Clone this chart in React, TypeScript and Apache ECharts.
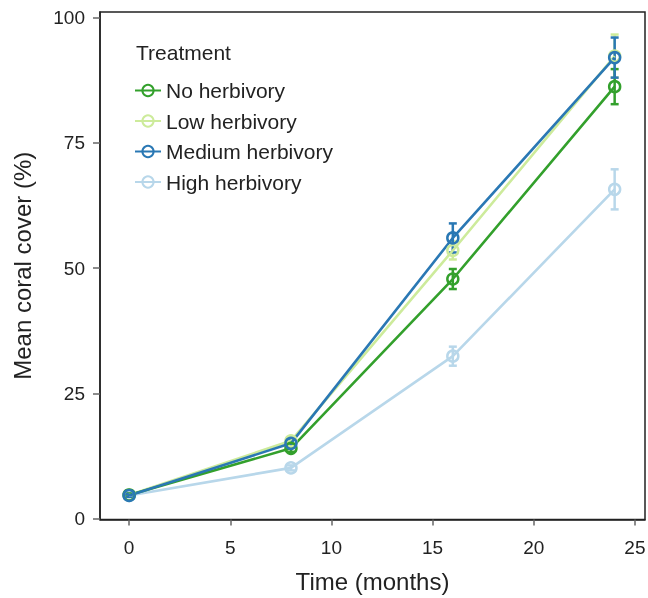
import React, { useEffect, useRef } from "react";
import * as echarts from "echarts";

const months = [0, 8, 16, 24];
const treatments = ["No herbivory", "Low herbivory", "Medium herbivory", "High herbivory"];
const colors = ["#33a02c", "#cdeb9b", "#2a78b4", "#b8d7ea"];
const meanNo = [4.7, 14.0, 47.8, 86.2];
const meanLow = [4.7, 15.5, 53.5, 92.3];
const meanMedium = [4.6, 15.0, 56.0, 92.0];
const meanHigh = [4.6, 10.1, 32.4, 65.7];
const errNo = [0.3, 0.7, 2.0, 3.5];
const errLow = [0.3, 0.7, 1.8, 4.3];
const errMedium = [0.3, 0.8, 2.9, 4.0];
const errHigh = [0.3, 0.5, 1.9, 4.0];
const xTicks = [0, 5, 10, 15, 20, 25];
const yTicks = [0, 25, 50, 75, 100];

const means = [meanNo, meanLow, meanMedium, meanHigh];
const errs = [errNo, errLow, errMedium, errHigh];
const FONT = "Liberation Sans, Arial, sans-serif";

export default function App() {
  const ref = useRef<HTMLDivElement>(null);
  useEffect(() => {
    if (!ref.current) return;
    const chart = echarts.init(ref.current, undefined, { renderer: "svg" });
    const order = [1, 3, 0, 2];
    const series: any[] = [];
    order.forEach((i) => {
      const col = colors[i];
      series.push({
        type: "custom",
        name: treatments[i] + " err",
        data: months.map((m, k) => [m, means[i][k] - errs[i][k], means[i][k] + errs[i][k]]),
        encode: { x: 0, y: [1, 2] },
        silent: true,
        z: 2,
        renderItem: (params: any, api: any) => {
          const lo = api.coord([api.value(0), api.value(1)]);
          const hi = api.coord([api.value(0), api.value(2)]);
          const w = 4;
          const style = { stroke: col, lineWidth: 2.5 };
          return {
            type: "group",
            children: [
              { type: "line", shape: { x1: lo[0], y1: lo[1], x2: hi[0], y2: hi[1] }, style },
              { type: "line", shape: { x1: lo[0] - w, y1: lo[1], x2: lo[0] + w, y2: lo[1] }, style },
              { type: "line", shape: { x1: hi[0] - w, y1: hi[1], x2: hi[0] + w, y2: hi[1] }, style },
            ],
          };
        },
      });
      series.push({
        type: "line",
        name: treatments[i],
        data: months.map((m, k) => [m, means[i][k]]),
        symbol: "circle",
        symbolSize: 11,
        z: 3,
        color: col,
        itemStyle: { color: "rgba(255,255,255,0)", borderColor: col, borderWidth: 2.5 },
        lineStyle: { color: col, width: 2.6 },
      });
    });
    chart.setOption({
      animation: false,
      grid: {
        left: 100,
        right: 3,
        top: 12,
        bottom: 78.5,
        containLabel: false,
        outerBoundsMode: "none",
        show: true,
        borderColor: "#222",
        borderWidth: 1.5,
        backgroundColor: "transparent",
      },
      title: {
        text: "Treatment",
        left: 131,
        top: 37,
        textStyle: { fontFamily: FONT, fontSize: 21, fontWeight: "normal", color: "#222" },
      },
      legend: {
        data: treatments,
        orient: "vertical",
        left: 129,
        top: 75,
        itemWidth: 26,
        itemHeight: 14,
        itemGap: 9.5,
        textStyle: { fontFamily: FONT, fontSize: 21, color: "#222", padding: [0, 0, 0, 0] },
      },
      xAxis: {
        type: "value",
        min: -1.44,
        max: 25.5,
        name: "Time (months)",
        nameLocation: "middle",
        nameGap: 50,
        nameTextStyle: { fontFamily: FONT, fontSize: 24, color: "#222" },
        axisLine: { show: true, onZero: false, lineStyle: { color: "#222", width: 1.5 } },
        axisTick: { show: true, length: 6, customValues: xTicks, lineStyle: { color: "#666", width: 1.5 } },
        axisLabel: { customValues: xTicks, margin: 18, fontFamily: FONT, fontSize: 19, color: "#222" },
        splitLine: { show: false },
      },
      yAxis: {
        type: "value",
        min: -0.2,
        max: 101.1,
        name: "Mean coral cover (%)",
        nameLocation: "middle",
        nameGap: 66,
        nameTextStyle: { fontFamily: FONT, fontSize: 24, color: "#222" },
        axisLine: { show: true, onZero: false, lineStyle: { color: "#222", width: 1.5 } },
        axisTick: { show: true, length: 7, customValues: yTicks, lineStyle: { color: "#666", width: 1.5 } },
        axisLabel: { customValues: yTicks, margin: 15, fontFamily: FONT, fontSize: 19, color: "#222" },
        splitLine: { show: false },
      },
      series,
    });
    return () => chart.dispose();
  }, []);
  return <div ref={ref} style={{ width: 648, height: 598, position: "fixed", left: 0, top: 0 }} />;
}
